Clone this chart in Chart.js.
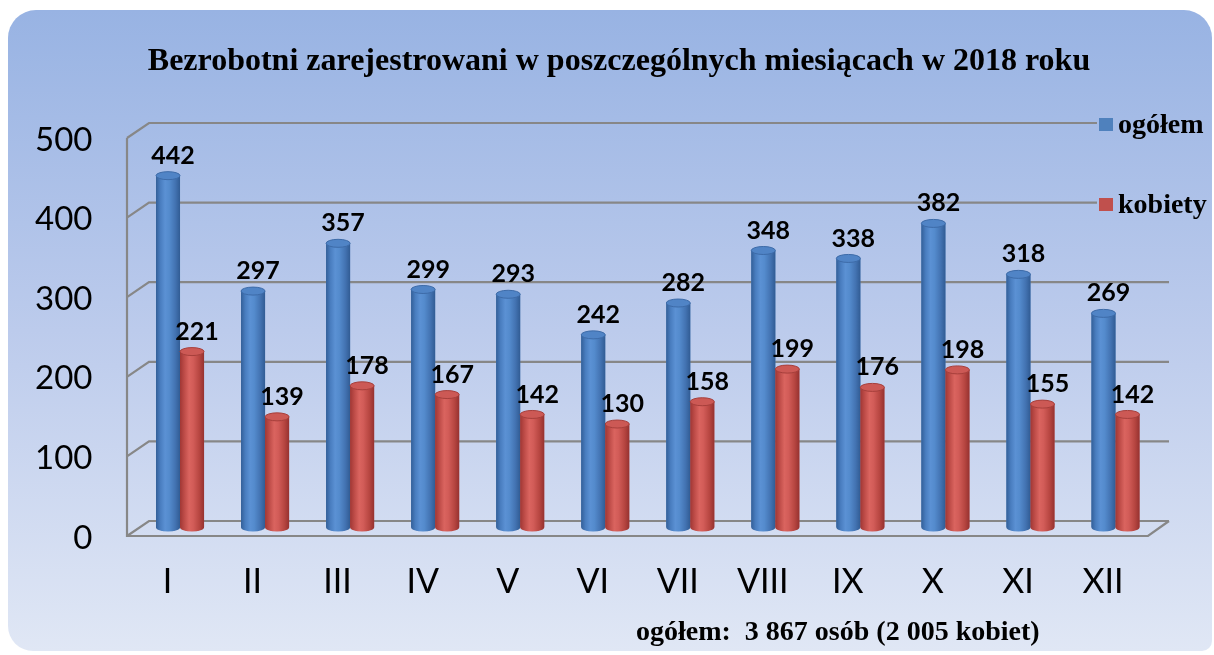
<!DOCTYPE html>
<html><head><meta charset="utf-8">
<script src="https://cdn.jsdelivr.net/npm/chart.js@4.4.1/dist/chart.umd.min.js"></script>
<style>html,body{margin:0;padding:0;background:#fff;}canvas{display:block;}</style>
</head><body>
<canvas id="c" width="1214" height="655"></canvas>
<script>
// ---- data ----
const months = ['I','II','III','IV','V','VI','VII','VIII','IX','X','XI','XII'];
const ogolem = [442, 297, 357, 299, 293, 242, 282, 348, 338, 382, 318, 269];
const kobiety = [221, 139, 178, 167, 142, 130, 158, 199, 176, 198, 155, 142];
const yTicks = [0, 100, 200, 300, 400, 500];
const seriesNames = ['ogółem', 'kobiety'];
const titleText = 'Bezrobotni zarejestrowani w poszczególnych miesiącach w 2018 roku';
const footerText = 'ogółem:  3 867 osób (2 005 kobiet)';

// ---- styles ----
const BLUE = '#4f81bd', RED = '#c0504d';
const SERIF = '"Liberation Serif", "Times New Roman", serif';
const SANS = 'Lato, "Open Sans", sans-serif';

function bgGradient(c){
  const g = c.createLinearGradient(0, 10, 0, 651);
  g.addColorStop(0, '#98b3e3');
  g.addColorStop(0.5, '#bccbec');
  g.addColorStop(1, '#e0e7f5');
  return g;
}

const bgPlugin = {
  id: 'bg',
  beforeDraw(chart){
    const c = chart.ctx;
    c.save();
    c.fillStyle = '#ffffff';
    c.fillRect(0, 0, chart.width, chart.height);
    c.beginPath();
    c.roundRect(8, 10, 1204, 641, [28, 28, 10, 25]);
    c.fillStyle = bgGradient(c);
    c.fill();
    c.restore();
  }
};

const BACK = -6.5, FRONT = 8.5;
const gridPlugin = {
  id: 'grid3d',
  beforeDatasetsDraw(chart){
    const c = chart.ctx, ys = chart.scales.y, a = chart.chartArea;
    const fx = a.left - 10.5, bx = fx + 22, rx = a.right + 11;
    c.save();
    c.strokeStyle = '#878787';
    c.lineWidth = 2.2;
    c.lineJoin = 'miter';
    c.beginPath();
    yTicks.forEach(v => {
      const p = ys.getPixelForValue(v);
      c.moveTo(fx, p + FRONT);
      c.lineTo(bx, p + BACK);
      c.lineTo(rx, p + BACK);
    });
    const p0 = ys.getPixelForValue(0), p5 = ys.getPixelForValue(500);
    c.moveTo(fx, p5 + FRONT);
    c.lineTo(fx, p0 + FRONT);
    c.lineTo(rx - 21, p0 + FRONT);
    c.lineTo(rx, p0 + BACK);
    c.stroke();
    c.restore();
  }
};

const shades = {
  0: { stops: ['#335f98', '#497dbf', '#5b91d4', '#548bcd', '#4373b2', '#315c94'], cap: '#5084c6', capEdge: '#3d6ba8' },
  1: { stops: ['#a03734', '#be4c48', '#da645f', '#d25c58', '#b74641', '#963230'], cap: '#cc5955', capEdge: '#a63f3b' }
};

const cylPlugin = {
  id: 'cyl',
  afterDatasetsDraw(chart){
    const c = chart.ctx;
    c.save();
    chart.data.datasets.forEach((ds, i) => {
      const meta = chart.getDatasetMeta(i);
      const sh = shades[i];
      meta.data.forEach(bar => {
        const {x, y, base, width} = bar.getProps(['x', 'y', 'base', 'width'], true);
        const l = x - width / 2, r = x + width / 2, rx = width / 2, ry = 4;
        const g = c.createLinearGradient(l, 0, r, 0);
        const pos = [0, 0.18, 0.38, 0.55, 0.8, 1];
        sh.stops.forEach((col, k) => g.addColorStop(pos[k], col));
        c.beginPath();
        c.moveTo(l, y);
        c.lineTo(l, base);
        c.ellipse(x, base, rx, ry, 0, Math.PI, 0, true);
        c.lineTo(r, y);
        c.closePath();
        c.fillStyle = g;
        c.fill();
        c.beginPath();
        c.ellipse(x, y, rx, ry, 0, 0, Math.PI * 2);
        c.fillStyle = sh.cap;
        c.fill();
        c.strokeStyle = sh.capEdge;
        c.lineWidth = 1;
        c.stroke();
      });
    });
    // value labels
    c.fillStyle = '#000';
    c.font = 'bold 25px ' + SANS;
    c.textAlign = 'center';
    c.textBaseline = 'middle';
    chart.data.datasets.forEach((ds, i) => {
      chart.getDatasetMeta(i).data.forEach((bar, j) => {
        const {x, y} = bar.getProps(['x', 'y'], true);
        c.fillText(String(ds.data[j]), x + 5, y - 20);
      });
    });
    c.restore();
  }
};

const textPlugin = {
  id: 'texts',
  afterDraw(chart){
    const c = chart.ctx;
    c.save();
    // title
    c.fillStyle = '#000';
    c.font = 'bold 32px ' + SERIF;
    c.textAlign = 'center';
    c.textBaseline = 'alphabetic';
    c.fillText(titleText, 619, 70);
    // legend (with background covering the grid behind it)
    c.fillStyle = bgGradient(c);
    c.fillRect(1097, 108, 115, 112);
    const cols = [BLUE, RED];
    const ly = [125, 205];
    c.font = 'bold 28px ' + SERIF;
    c.textAlign = 'left';
    seriesNames.forEach((n, k) => {
      c.fillStyle = cols[k];
      c.fillRect(1099, ly[k] - 7, 14, 13);
      c.fillStyle = '#000';
      c.fillText(n, 1118, ly[k] + 8);
    });
    // footer
    c.font = 'bold 28px ' + SERIF;
    c.textAlign = 'left';
    c.fillText(footerText, 636, 640);
    c.restore();
  }
};

function build(){
  new Chart(document.getElementById('c'), {
    type: 'bar',
    data: {
      labels: months,
      datasets: [
        { label: seriesNames[0], data: ogolem, backgroundColor: BLUE, categoryPercentage: 0.565, barPercentage: 1 },
        { label: seriesNames[1], data: kobiety, backgroundColor: RED, categoryPercentage: 0.565, barPercentage: 1 }
      ]
    },
    options: {
      responsive: false,
      animation: false,
      devicePixelRatio: 1,
      layout: { padding: { top: 129.5, right: 56, bottom: 0, left: 0 } },
      plugins: { legend: { display: false }, title: { display: false }, tooltip: { enabled: false } },
      scales: {
        x: {
          grid: { display: false, drawTicks: false },
          border: { display: false },
          ticks: { font: { family: SANS, size: 34 }, color: '#000', padding: 34, labelOffset: -12.5 },
          afterFit(s){ s.height = 127.5; }
        },
        y: {
          min: 0, max: 500,
          grid: { display: false, drawTicks: false },
          border: { display: false },
          ticks: { stepSize: 100, font: { family: SANS, size: 33 }, color: '#000', padding: 45, labelOffset: 10.5 },
          afterFit(s){ s.width = 137.5; }
        }
      }
    },
    plugins: [bgPlugin, gridPlugin, cylPlugin, textPlugin]
  });
}
Promise.all([
  document.fonts.load('34px Lato'),
  document.fonts.load('bold 24px Lato'),
  document.fonts.load('bold 29px "Liberation Serif"')
]).then(build, build);
</script>
</body></html>
